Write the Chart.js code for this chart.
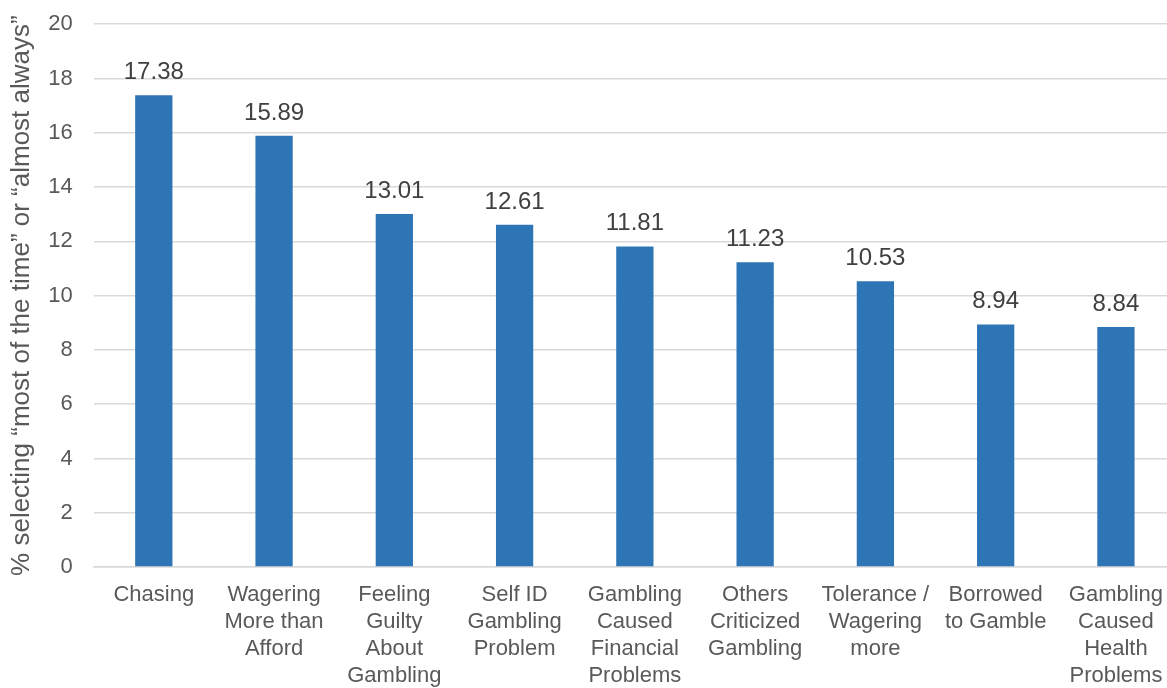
<!DOCTYPE html>
<html>
<head>
<meta charset="utf-8">
<script src="https://cdn.jsdelivr.net/npm/chart.js@4.4.1/dist/chart.umd.min.js"></script>
<style>
  html, body { margin: 0; padding: 0; background: #fff; overflow: hidden; }
  .wrap { width: 1177px; height: 703px; position: relative; }
</style>
</head>
<body>
<div class="wrap"><canvas id="grafico"></canvas></div>
<script>
// categorias e valores (%)
const categorias = [
  ['Chasing'],
  ['Wagering', 'More than', 'Afford'],
  ['Feeling', 'Guilty', 'About', 'Gambling'],
  ['Self ID', 'Gambling', 'Problem'],
  ['Gambling', 'Caused', 'Financial', 'Problems'],
  ['Others', 'Criticized', 'Gambling'],
  ['Tolerance /', 'Wagering', 'more'],
  ['Borrowed', 'to Gamble'],
  ['Gambling', 'Caused', 'Health', 'Problems']
];
const valores = [17.38, 15.89, 13.01, 12.61, 11.81, 11.23, 10.53, 8.94, 8.84];
const eixoMin = 0;
const eixoMax = 20;
const passo = 2;

const fonte = "'Liberation Sans', Arial, sans-serif";
const corTexto = '#595959';

// escreve o valor em cima de cada coluna
const rotulosValores = {
  id: 'rotulosValores',
  afterDatasetsDraw(chart) {
    const ctx = chart.ctx;
    const meta = chart.getDatasetMeta(0);
    ctx.save();
    ctx.font = '24px ' + fonte;
    ctx.fillStyle = '#404040';
    ctx.textAlign = 'center';
    ctx.textBaseline = 'alphabetic';
    meta.data.forEach((bar, i) => {
      ctx.fillText(valores[i].toFixed(2), bar.x, bar.y - 16);
    });
    ctx.restore();
  }
};

new Chart(document.getElementById('grafico'), {
  type: 'bar',
  data: {
    labels: categorias,
    datasets: [{
      data: valores,
      backgroundColor: '#2E75B6',
      barPercentage: 0.31,
      categoryPercentage: 1
    }]
  },
  options: {
    responsive: true,
    maintainAspectRatio: false,
    animation: false,
    layout: { padding: 0 },
    plugins: {
      legend: { display: false },
      tooltip: { enabled: false }
    },
    scales: {
      x: {
        grid: { display: false, drawTicks: false },
        border: { display: true, color: '#D9D9D9', width: 1.5 },
        ticks: {
          color: corTexto,
          font: { family: fonte, size: 22, lineHeight: 1.227 },
          padding: 14,
          maxRotation: 0,
          autoSkip: false
        }
      },
      y: {
        min: eixoMin,
        max: eixoMax,
        ticks: {
          stepSize: passo,
          color: corTexto,
          font: { family: fonte, size: 22 },
          padding: 11
        },
        // marcas invisíveis só para afastar os números da grade
        grid: { color: '#D9D9D9', lineWidth: 1.5, drawTicks: true, tickLength: 10, tickColor: 'rgba(0,0,0,0)' },
        border: { display: false },
        title: {
          display: true,
          text: '% selecting \u201cmost of the time\u201d or \u201calmost always\u201d',
          color: corTexto,
          font: { family: fonte, size: 26 },
          padding: { top: 6, bottom: 0 }
        }
      }
    }
  },
  plugins: [rotulosValores]
});
</script>
</body>
</html>
